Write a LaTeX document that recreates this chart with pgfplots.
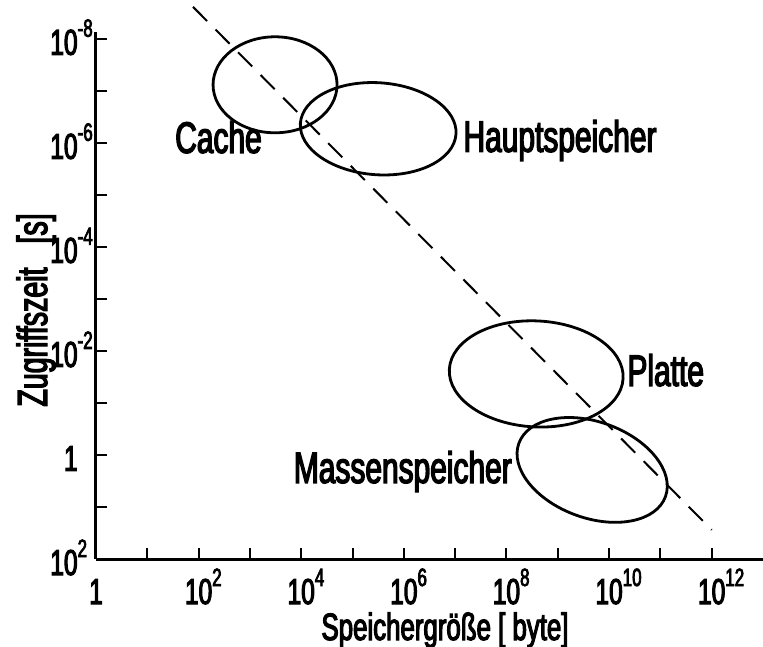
\documentclass[border=0pt]{standalone}
\usepackage{pgfplots}
\pgfplotsset{compat=1.18}
\usepackage{fontspec}
\setmainfont{Liberation Sans}[FakeStretch=0.68, FakeBold=3]
\newcommand\pw[1]{10\rlap{\raisebox{9pt}{\fontsize{12.5}{12.5}\selectfont #1}}}
\begin{document}
\begin{tikzpicture}
\begin{axis}[
  at={(0pt,0pt)}, anchor=south west,
  scale only axis, width=333.5pt, height=263.5pt,
  xmode=log, ymode=log, y dir=reverse,
  xmin=1, xmax=1e13, ymin=7.41e-9, ymax=100,
  axis x line*=bottom, axis y line*=left,
  axis line style={line width=1.5pt, black},
  xminorticks=false, yminorticks=false,
  major tick length=5.5pt,
  tick style={line width=1pt, black},
  tick align=inside,
  xtick={1,10,100,1e3,1e4,1e5,1e6,1e7,1e8,1e9,1e10,1e11,1e12},
  xticklabels={1,,\pw{2},,\pw{4},,\pw{6},,\pw{8},,\pw{10},,\pw{12}},
  ytick={1e-8,1e-7,1e-6,1e-5,1e-4,1e-3,1e-2,1e-1,1,10,100},
  yticklabels={\pw{-8},,\pw{-6},,\pw{-4},,\pw{-2},,1,,\pw{2}},
  xticklabel style={font=\fontsize{18}{18}\selectfont, anchor=base, inner sep=0pt, yshift=-22.5pt},
  yticklabel style={font=\fontsize{18}{18}\selectfont, anchor=base east, inner sep=0pt, xshift=-9pt, yshift=-8pt},
  clip=false,
]
\addplot[black, line width=1pt, dash pattern=on 10pt off 6pt] coordinates {(77.6,2.43e-9) (1e12,27.5)};
\draw[line width=1.4pt] (axis cs:3090,7.67e-8) ellipse [x radius=31pt, y radius=24pt];
\draw[line width=1.4pt] (axis cs:3.16e5,5.37e-7) ellipse [x radius=39pt, y radius=23pt, rotate=-4];
\draw[line width=1.4pt] (axis cs:3.8e8,0.0277) ellipse [x radius=43.5pt, y radius=26.5pt, rotate=-3];
\draw[line width=1.4pt] (axis cs:4.68e9,1.94) ellipse [x radius=39pt, y radius=24pt, rotate=-20];
\node[anchor=base, inner sep=0pt, font=\fontsize{22}{22}\selectfont] at (axis cs:244,1.56e-6) {Cache};
\node[anchor=base west, inner sep=0pt, font=\fontsize{22}{22}\selectfont] at (axis cs:1.43e7,1.49e-6) {Hauptspeicher};
\node[anchor=base west, inner sep=0pt, font=\fontsize{22}{22}\selectfont] at (axis cs:2.24e10,0.0471) {Platte};
\node[anchor=base east, inner sep=0pt, font=\fontsize{22}{22}\selectfont] at (axis cs:1.29e8,3.45) {Massenspeicher};
\end{axis}
\node[anchor=base, inner sep=0pt, font=\fontsize{19}{19}\selectfont] at (174.5pt,-40.5pt) {Speichergröße [ byte]};
\node[anchor=base, inner sep=0pt, rotate=90, font=\fontsize{21}{21}\selectfont] at (-24.5pt,124.5pt) {Zugriffszeit\hspace{12pt}[s]};
\pgfresetboundingbox
\path (-48pt,-43.5pt) rectangle (333.5pt,279.5pt);
\end{tikzpicture}
\end{document}
